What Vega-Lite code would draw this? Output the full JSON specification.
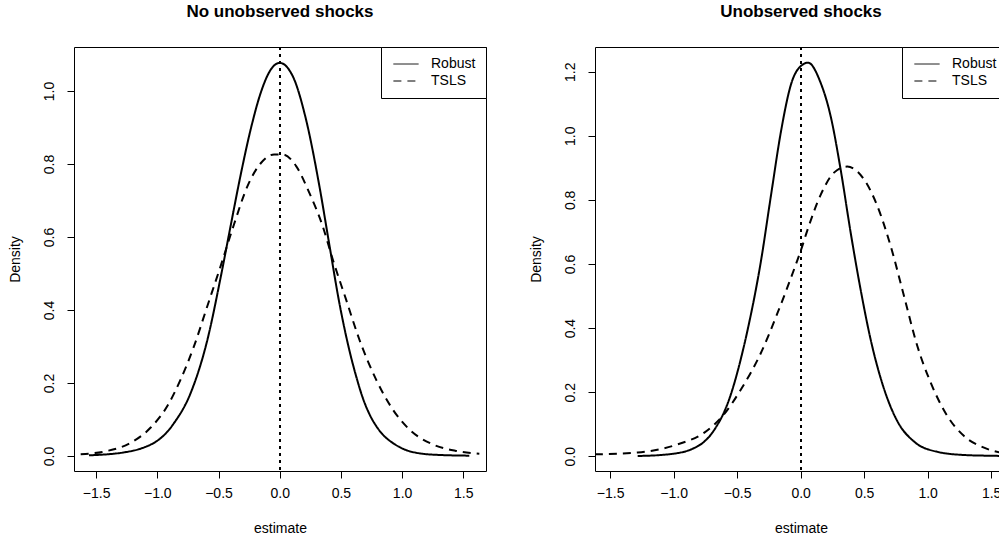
{
  "$schema": "https://vega.github.io/schema/vega-lite/v6.json",
  "background": "white",
  "padding": {"left": 7, "top": 2, "right": 0, "bottom": 0},
  "spacing": 41,
  "datasets": {
    "left": [
      {"estimate": -1.558, "density": 0.002, "method": "Robust"},
      {"estimate": -1.40, "density": 0.005, "method": "Robust"},
      {"estimate": -1.272, "density": 0.010, "method": "Robust"},
      {"estimate": -1.13, "density": 0.021, "method": "Robust"},
      {"estimate": -1.0, "density": 0.042, "method": "Robust"},
      {"estimate": -0.93, "density": 0.062, "method": "Robust"},
      {"estimate": -0.864, "density": 0.090, "method": "Robust"},
      {"estimate": -0.727, "density": 0.173, "method": "Robust"},
      {"estimate": -0.591, "density": 0.318, "method": "Robust"},
      {"estimate": -0.482, "density": 0.490, "method": "Robust"},
      {"estimate": -0.400, "density": 0.632, "method": "Robust"},
      {"estimate": -0.319, "density": 0.770, "method": "Robust"},
      {"estimate": -0.237, "density": 0.895, "method": "Robust"},
      {"estimate": -0.155, "density": 0.995, "method": "Robust"},
      {"estimate": -0.074, "density": 1.058, "method": "Robust"},
      {"estimate": 0.0, "density": 1.077, "method": "Robust"},
      {"estimate": 0.106, "density": 1.041, "method": "Robust"},
      {"estimate": 0.215, "density": 0.922, "method": "Robust"},
      {"estimate": 0.324, "density": 0.740, "method": "Robust"},
      {"estimate": 0.405, "density": 0.580, "method": "Robust"},
      {"estimate": 0.487, "density": 0.420, "method": "Robust"},
      {"estimate": 0.569, "density": 0.290, "method": "Robust"},
      {"estimate": 0.625, "density": 0.218, "method": "Robust"},
      {"estimate": 0.678, "density": 0.160, "method": "Robust"},
      {"estimate": 0.73, "density": 0.117, "method": "Robust"},
      {"estimate": 0.787, "density": 0.083, "method": "Robust"},
      {"estimate": 0.85, "density": 0.056, "method": "Robust"},
      {"estimate": 0.923, "density": 0.036, "method": "Robust"},
      {"estimate": 1.02, "density": 0.018, "method": "Robust"},
      {"estimate": 1.114, "density": 0.009, "method": "Robust"},
      {"estimate": 1.30, "density": 0.003, "method": "Robust"},
      {"estimate": 1.549, "density": 0.001, "method": "Robust"},
      {"estimate": -1.626, "density": 0.005, "method": "TSLS"},
      {"estimate": -1.408, "density": 0.014, "method": "TSLS"},
      {"estimate": -1.218, "density": 0.036, "method": "TSLS"},
      {"estimate": -1.054, "density": 0.078, "method": "TSLS"},
      {"estimate": -0.918, "density": 0.137, "method": "TSLS"},
      {"estimate": -0.809, "density": 0.210, "method": "TSLS"},
      {"estimate": -0.700, "density": 0.301, "method": "TSLS"},
      {"estimate": -0.591, "density": 0.411, "method": "TSLS"},
      {"estimate": -0.482, "density": 0.521, "method": "TSLS"},
      {"estimate": -0.373, "density": 0.635, "method": "TSLS"},
      {"estimate": -0.265, "density": 0.738, "method": "TSLS"},
      {"estimate": -0.155, "density": 0.802, "method": "TSLS"},
      {"estimate": -0.046, "density": 0.826, "method": "TSLS"},
      {"estimate": 0.027, "density": 0.826, "method": "TSLS"},
      {"estimate": 0.133, "density": 0.795, "method": "TSLS"},
      {"estimate": 0.242, "density": 0.721, "method": "TSLS"},
      {"estimate": 0.351, "density": 0.630, "method": "TSLS"},
      {"estimate": 0.433, "density": 0.539, "method": "TSLS"},
      {"estimate": 0.542, "density": 0.429, "method": "TSLS"},
      {"estimate": 0.650, "density": 0.320, "method": "TSLS"},
      {"estimate": 0.787, "density": 0.210, "method": "TSLS"},
      {"estimate": 0.923, "density": 0.128, "method": "TSLS"},
      {"estimate": 1.059, "density": 0.073, "method": "TSLS"},
      {"estimate": 1.25, "density": 0.032, "method": "TSLS"},
      {"estimate": 1.44, "density": 0.014, "method": "TSLS"},
      {"estimate": 1.631, "density": 0.006, "method": "TSLS"}
    ],
    "right": [
      {"estimate": -1.283, "density": 0.001, "method": "Robust"},
      {"estimate": -1.1, "density": 0.004, "method": "Robust"},
      {"estimate": -0.969, "density": 0.010, "method": "Robust"},
      {"estimate": -0.9, "density": 0.016, "method": "Robust"},
      {"estimate": -0.837, "density": 0.026, "method": "Robust"},
      {"estimate": -0.77, "density": 0.042, "method": "Robust"},
      {"estimate": -0.706, "density": 0.068, "method": "Robust"},
      {"estimate": -0.66, "density": 0.095, "method": "Robust"},
      {"estimate": -0.614, "density": 0.128, "method": "Robust"},
      {"estimate": -0.565, "density": 0.175, "method": "Robust"},
      {"estimate": -0.522, "density": 0.228, "method": "Robust"},
      {"estimate": -0.47, "density": 0.305, "method": "Robust"},
      {"estimate": -0.417, "density": 0.395, "method": "Robust"},
      {"estimate": -0.312, "density": 0.610, "method": "Robust"},
      {"estimate": -0.233, "density": 0.815, "method": "Robust"},
      {"estimate": -0.154, "density": 1.015, "method": "Robust"},
      {"estimate": -0.076, "density": 1.160, "method": "Robust"},
      {"estimate": 0.016, "density": 1.222, "method": "Robust"},
      {"estimate": 0.058, "density": 1.228, "method": "Robust"},
      {"estimate": 0.157, "density": 1.166, "method": "Robust"},
      {"estimate": 0.236, "density": 1.062, "method": "Robust"},
      {"estimate": 0.315, "density": 0.895, "method": "Robust"},
      {"estimate": 0.394, "density": 0.698, "method": "Robust"},
      {"estimate": 0.472, "density": 0.521, "method": "Robust"},
      {"estimate": 0.551, "density": 0.365, "method": "Robust"},
      {"estimate": 0.657, "density": 0.210, "method": "Robust"},
      {"estimate": 0.761, "density": 0.110, "method": "Robust"},
      {"estimate": 0.893, "density": 0.046, "method": "Robust"},
      {"estimate": 1.076, "density": 0.014, "method": "Robust"},
      {"estimate": 1.287, "density": 0.004, "method": "Robust"},
      {"estimate": 1.45, "density": 0.002, "method": "Robust"},
      {"estimate": 1.60, "density": 0.001, "method": "Robust"},
      {"estimate": -1.62, "density": 0.006, "method": "TSLS"},
      {"estimate": -1.283, "density": 0.012, "method": "TSLS"},
      {"estimate": -0.969, "density": 0.037, "method": "TSLS"},
      {"estimate": -0.758, "density": 0.074, "method": "TSLS"},
      {"estimate": -0.614, "density": 0.126, "method": "TSLS"},
      {"estimate": -0.469, "density": 0.209, "method": "TSLS"},
      {"estimate": -0.312, "density": 0.323, "method": "TSLS"},
      {"estimate": -0.181, "density": 0.448, "method": "TSLS"},
      {"estimate": -0.050, "density": 0.585, "method": "TSLS"},
      {"estimate": 0.0, "density": 0.640, "method": "TSLS"},
      {"estimate": 0.053, "density": 0.705, "method": "TSLS"},
      {"estimate": 0.157, "density": 0.815, "method": "TSLS"},
      {"estimate": 0.263, "density": 0.885, "method": "TSLS"},
      {"estimate": 0.367, "density": 0.904, "method": "TSLS"},
      {"estimate": 0.499, "density": 0.864, "method": "TSLS"},
      {"estimate": 0.604, "density": 0.781, "method": "TSLS"},
      {"estimate": 0.709, "density": 0.656, "method": "TSLS"},
      {"estimate": 0.814, "density": 0.500, "method": "TSLS"},
      {"estimate": 0.919, "density": 0.344, "method": "TSLS"},
      {"estimate": 1.024, "density": 0.230, "method": "TSLS"},
      {"estimate": 1.155, "density": 0.126, "method": "TSLS"},
      {"estimate": 1.287, "density": 0.063, "method": "TSLS"},
      {"estimate": 1.444, "density": 0.027, "method": "TSLS"},
      {"estimate": 1.58, "density": 0.011, "method": "TSLS"},
      {"estimate": 1.65, "density": 0.008, "method": "TSLS"}
    ]
  },
  "hconcat": [
    {
      "title": {"text": "No unobserved shocks"},
      "width": 412,
      "height": 424,
      "data": {"name": "left"},
      "layer": [
        {
          "mark": {"type": "rule", "color": "black", "strokeWidth": 1, "strokeDash": [3, 4]},
          "encoding": {"x": {"datum": 0, "type": "quantitative"}}
        },
        {
          "mark": {"type": "line", "color": "black", "strokeWidth": 2, "interpolate": "monotone", "clip": true},
          "encoding": {
            "x": {"field": "estimate", "type": "quantitative", "title": "estimate",
                  "scale": {"domain": [-1.6806, 1.6855], "nice": false, "zero": false},
                  "axis": {"values": [-1.5, -1, -0.5, 0, 0.5, 1, 1.5], "format": ".1f"}},
            "y": {"field": "density", "type": "quantitative", "title": "Density",
                  "scale": {"domain": [-0.041, 1.1205], "nice": false, "zero": false},
                  "axis": {"values": [0, 0.2, 0.4, 0.6, 0.8, 1.0], "format": ".1f"}},
            "strokeDash": {"field": "method", "type": "nominal",
                  "scale": {"domain": ["Robust", "TSLS"], "range": [[1, 0], [8, 6]]},
                  "legend": {"encode": {"symbols": {"update": {"strokeDash": {"signal": "datum.value === 'TSLS' ? [4, 3] : [1, 0]"}, "strokeWidth": {"value": 1}, "stroke": {"value": "black"}, "fill": {"value": "transparent"}}}}}}
          }
        }
      ]
    },
    {
      "title": {"text": "Unobserved shocks"},
      "width": 412,
      "height": 424,
      "data": {"name": "right"},
      "layer": [
        {
          "mark": {"type": "rule", "color": "black", "strokeWidth": 1, "strokeDash": [3, 4]},
          "encoding": {"x": {"datum": 0, "type": "quantitative"}}
        },
        {
          "mark": {"type": "line", "color": "black", "strokeWidth": 2, "interpolate": "monotone", "clip": true},
          "encoding": {
            "x": {"field": "estimate", "type": "quantitative", "title": "estimate",
                  "scale": {"domain": [-1.619, 1.625], "nice": false, "zero": false},
                  "axis": {"values": [-1.5, -1, -0.5, 0, 0.5, 1, 1.5], "format": ".1f"}},
            "y": {"field": "density", "type": "quantitative", "title": "Density",
                  "scale": {"domain": [-0.0459, 1.277], "nice": false, "zero": false},
                  "axis": {"values": [0, 0.2, 0.4, 0.6, 0.8, 1.0, 1.2], "format": ".1f"}},
            "strokeDash": {"field": "method", "type": "nominal",
                  "scale": {"domain": ["Robust", "TSLS"], "range": [[1, 0], [8, 6]]},
                  "legend": {"encode": {"symbols": {"update": {"strokeDash": {"signal": "datum.value === 'TSLS' ? [4, 3] : [1, 0]"}, "strokeWidth": {"value": 1}, "stroke": {"value": "black"}, "fill": {"value": "transparent"}}}}}}
          }
        }
      ]
    }
  ],
  "resolve": {
    "scale": {"x": "independent", "y": "independent", "strokeDash": "independent"},
    "legend": {"strokeDash": "independent"}
  },
  "config": {
    "font": "Liberation Sans",
    "view": {"stroke": "black", "strokeWidth": 1},
    "title": {"fontSize": 17, "fontWeight": "bold", "color": "black", "anchor": "middle", "baseline": "alphabetic", "offset": 26},
    "axis": {
      "domain": false, "grid": false, "ticks": true, "tickSize": 7, "tickColor": "black", "tickWidth": 1,
      "labelFontSize": 14, "labelColor": "black", "labelFont": "Liberation Sans",
      "titleFontSize": 14, "titleFontWeight": "normal", "titleColor": "black", "titleFont": "Liberation Sans"
    },
    "axisX": {"labelPadding": 8, "titlePadding": 21, "labelFlush": false, "labelOverlap": false},
    "axisY": {"labelAngle": -90, "labelAlign": "center", "labelBaseline": "bottom", "labelPadding": 11, "titlePadding": 20},
    "legend": {
      "orient": "top-right", "offset": 0, "title": null, "strokeColor": "black", "fillColor": "white",
      "padding": 10, "symbolType": "M-3.6,0H3.6", "symbolSize": 49, "symbolOffset": 8, "labelOffset": 18,
      "symbolStrokeWidth": 1, "symbolStrokeColor": "black", "symbolFillColor": "transparent", "labelFontSize": 14, "labelColor": "black",
      "labelFont": "Liberation Sans", "rowPadding": 3, "cornerRadius": 0
    }
  }
}
